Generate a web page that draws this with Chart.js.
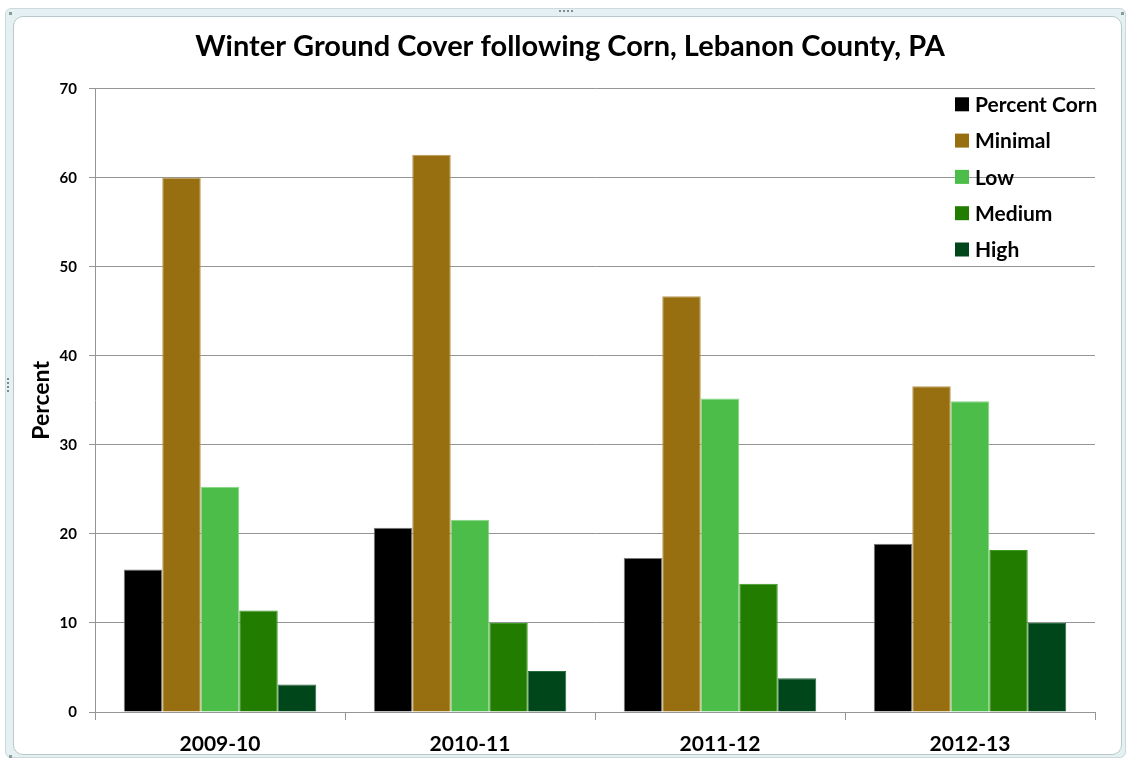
<!DOCTYPE html>
<html>
<head>
<meta charset="utf-8">
<title>Winter Ground Cover following Corn, Lebanon County, PA</title>
<script src="https://cdn.jsdelivr.net/npm/chart.js@4.4.1/dist/chart.umd.min.js"></script>
<style>
  html, body { margin: 0; padding: 0; background: #ffffff; }
  body { width: 1127px; height: 760px; position: relative; overflow: hidden; }
  #frame {
    position: absolute; left: 5px; top: 8px; width: 1121px; height: 750px;
    box-sizing: border-box; background: #e4f0f2;
    border: 1px solid #cddadd; border-radius: 6px;
  }
  #panel {
    position: absolute; left: 13px; top: 16px; width: 1109px; height: 739px;
    box-sizing: border-box; background: #ffffff;
    border: 1px solid #b9c8cb; border-radius: 10px;
  }
  .grip-h { position: absolute; left: 559px; top: 10px; width: 14px; height: 0; border-top: 2px dotted #7d8c8f; }
  .grip-v { position: absolute; left: 7px; top: 378px; width: 0; height: 14px; border-left: 2px dotted #7d8c8f; }
  .grip-c { position: absolute; width: 3px; height: 3px; background: #8a9a9d; }
  canvas { position: absolute; left: 0; top: 0; }
</style>
</head>
<body>
<div id="frame"></div>
<div id="panel"></div>
<div class="grip-h"></div>
<div class="grip-v"></div>
<div class="grip-c" style="left:9px;top:12px"></div>
<div class="grip-c" style="left:1121px;top:12px"></div>
<div class="grip-c" style="left:9px;top:755px"></div>
<canvas id="c" width="1127" height="760"></canvas>
<script>
// Crop years on the x axis
const seasons = ['2009-10', '2010-11', '2011-12', '2012-13'];

// Percent of acreage per season
const percentCorn = [16.0, 20.7, 17.3, 18.9];
const minimalCover = [60.0, 62.6, 46.7, 36.6];
const lowCover = [25.3, 21.6, 35.2, 34.9];
const mediumCover = [11.4, 10.0, 14.4, 18.2];
const highCover = [3.1, 4.6, 3.8, 10.0];

// Y axis range and step
const yMin = 0;
const yMax = 70;
const yStep = 10;

const FONT = "Lato, 'Open Sans', 'DejaVu Sans', sans-serif";
const GRID = '#959595';

function series(label, data, fill, edge) {
  return {
    label: label,
    data: data,
    backgroundColor: fill,
    borderColor: edge,
    borderWidth: 1,
    borderSkipped: 'bottom',
    categoryPercentage: 0.77,
    barPercentage: 1.0
  };
}

// Legend drawn inside the plot area, over the grid lines
const innerLegend = {
  id: 'innerLegend',
  afterDatasetsDraw(chart) {
    const ctx = chart.ctx;
    const area = chart.chartArea;
    const x0 = area.right - 140;
    const y0 = area.top + 15.5;
    const step = 36.3;
    ctx.save();
    ctx.font = 'bold 21px ' + FONT;
    ctx.textBaseline = 'middle';
    ctx.textAlign = 'left';
    chart.data.datasets.forEach((ds, i) => {
      const cy = y0 + i * step;
      ctx.fillStyle = ds.backgroundColor;
      ctx.fillRect(x0, cy - 7, 14, 14);
      ctx.fillStyle = '#000000';
      ctx.fillText(ds.label, x0 + 20, cy + 1);
    });
    ctx.restore();
  }
};

new Chart(document.getElementById('c'), {
  type: 'bar',
  data: {
    labels: seasons,
    datasets: [
      series('Percent Corn', percentCorn, '#000000', '#7a7a7a'),
      series('Minimal', minimalCover, '#986f10', '#b99a55'),
      series('Low', lowCover, '#4dbd4a', '#86d883'),
      series('Medium', mediumCover, '#217c00', '#3e9a25'),
      series('High', highCover, '#00461b', '#2c6a40')
    ]
  },
  options: {
    responsive: false,
    animation: false,
    events: [],
    layout: { padding: { left: 45, right: 32, top: 0, bottom: 4 } },
    plugins: {
      legend: { display: false },
      tooltip: { enabled: false },
      title: {
        display: true,
        text: 'Winter Ground Cover following Corn, Lebanon County, PA',
        color: '#000000',
        font: { family: FONT, size: 29, weight: 'bold', lineHeight: 1.2 },
        padding: { top: 29, bottom: 25 }
      }
    },
    scales: {
      x: {
        offset: true,
        border: { display: true, color: GRID, width: 1 },
        grid: {
          offset: true,
          drawOnChartArea: false,
          drawTicks: true,
          tickLength: 8,
          color: GRID
        },
        ticks: {
          color: '#000000',
          padding: 12,
          font: { family: FONT, size: 21, weight: 'bold', lineHeight: 1.2 }
        },
        afterFit(scale) { scale.height = 44; }
      },
      y: {
        min: yMin,
        max: yMax,
        border: { display: true, color: GRID, width: 1 },
        grid: {
          color: GRID,
          lineWidth: 1,
          drawTicks: true,
          tickLength: 6
        },
        ticks: {
          stepSize: yStep,
          color: '#000000',
          padding: 12,
          font: { family: FONT, size: 15, weight: 'bold' }
        },
        title: {
          display: true,
          text: 'Percent',
          color: '#000000',
          font: { family: FONT, size: 23, weight: 'bold', lineHeight: 1.2 },
          padding: { top: -17, bottom: 0 }
        },
        afterFit(scale) { scale.width = 50; }
      }
    }
  },
  plugins: [innerLegend]
});
</script>
</body>
</html>
